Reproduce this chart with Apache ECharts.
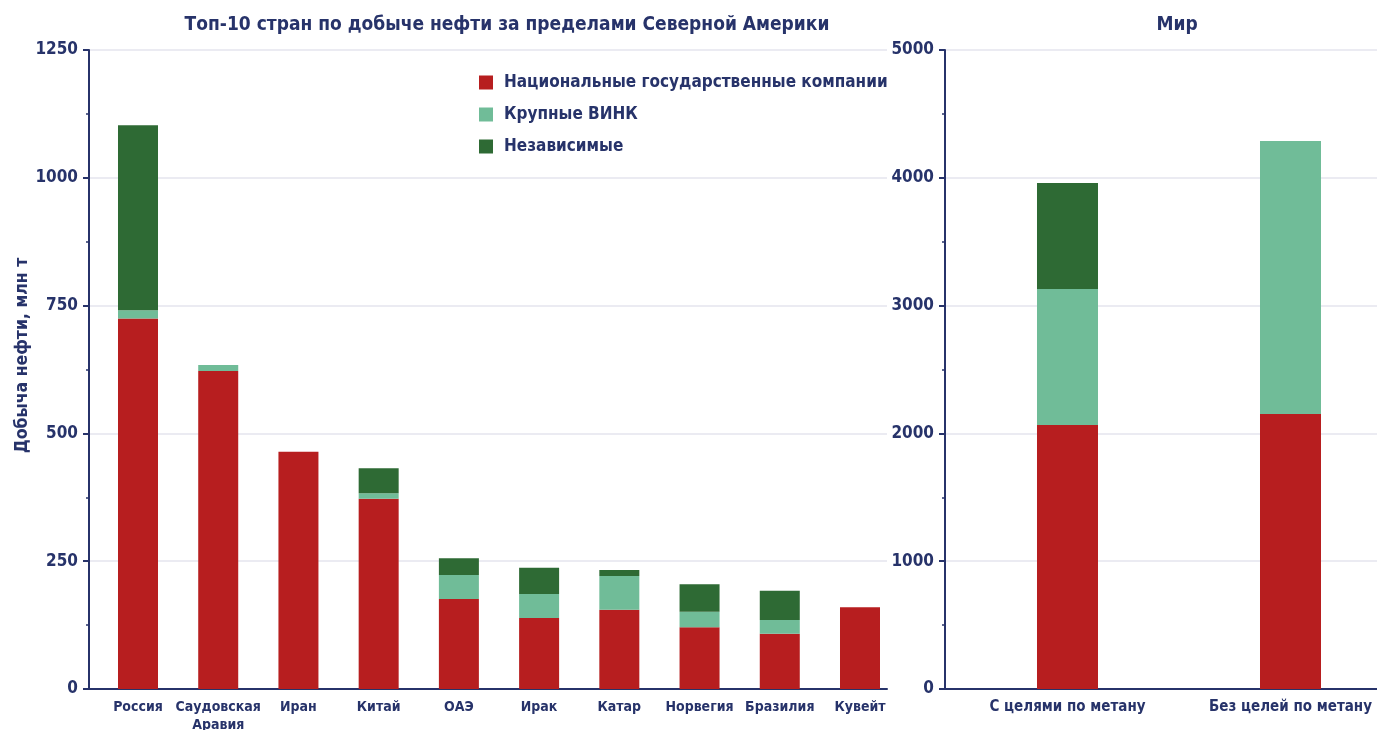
<!DOCTYPE html>
<html lang="ru">
<head>
<meta charset="utf-8" />
<title>Добыча нефти</title>
<script src="https://cdn.jsdelivr.net/npm/echarts@6/dist/echarts.min.js"></script>
<style>
  html, body { margin: 0; padding: 0; background: #fff; }
  #chart { width: 1377px; height: 730px; }
</style>
</head>
<body>
<div id="chart"></div>
<script>
// страны (левая панель)
const countries = ["Россия", "Саудовская\nАравия", "Иран", "Китай", "ОАЭ", "Ирак", "Катар", "Норвегия", "Бразилия", "Кувейт"];
const natCountry = [725, 622, 464, 372, 176, 139, 155, 121, 108, 160];
const vinkCountry = [16, 12, 0, 11, 47, 47, 66, 30, 27, 0];
const indepCountry = [362, 0, 0, 49, 33, 51, 12, 54, 57, 0];

// мир (правая панель)
const scenarios = ["С целями по метану", "Без целей по метану"];
const natWorld = [2066, 2152];
const vinkWorld = [1064, 2136];
const indepWorld = [829, 0];

const seriesNames = ["Национальные государственные компании", "Крупные ВИНК", "Независимые"];
const colors = ["#b71e1f", "#70bc98", "#2e6a34"];

const navy = "#27336a";
const font = "'Liberation Sans Narrow', 'DejaVu Sans Condensed', sans-serif";

const chart = echarts.init(document.getElementById("chart"));

// значение первым, чтобы стек шёл по оси y
function pts(arr) {
  return arr.map((v, i) => [v, i]);
}

function xAxisFor(idx, labels, min, max, size) {
  return {
    type: "value",
    gridIndex: idx,
    min: min,
    max: max,
    axisLine: { show: true, onZero: false, lineStyle: { color: navy, width: 2 } },
    axisTick: { show: false },
    splitLine: { show: false },
    axisLabel: {
      customValues: labels.map((l, i) => i),
      formatter: (v) => labels[Math.round(v)],
      color: navy,
      fontFamily: font,
      fontWeight: "bold",
      fontSize: size,
      lineHeight: 18,
      margin: 9
    }
  };
}

function yAxisFor(idx, max, interval, name) {
  return {
    type: "value",
    gridIndex: idx,
    min: 0,
    max: max,
    interval: interval,
    name: name,
    nameLocation: "middle",
    nameGap: 58,
    nameMoveOverlap: false,
    nameTextStyle: {
      color: navy, fontFamily: font, fontWeight: "bold", fontSize: 17.5,
      padding: [0, 0, 0, 28]
    },
    axisLine: { show: true, onZero: false, lineStyle: { color: navy, width: 2 } },
    axisTick: { show: true, length: 6, lineStyle: { color: navy, width: 2 } },
    minorTick: { show: true, splitNumber: 2, length: 3, lineStyle: { color: navy, width: 1.5 } },
    splitLine: { show: true, lineStyle: { color: "#e4e4ee", width: 1.5 } },
    axisLabel: {
      color: navy, fontFamily: font, fontWeight: "bold", fontSize: 17, margin: 11,
      formatter: (v) => String(v)
    }
  };
}

function barSeries(xi, data, k, width) {
  return {
    name: seriesNames[k],
    type: "bar",
    xAxisIndex: xi,
    yAxisIndex: xi,
    stack: "s" + xi,
    barWidth: width,
    encode: { x: 1, y: 0 },
    itemStyle: { color: colors[k] },
    data: pts(data)
  };
}

const option = {
  animation: false,
  textStyle: { fontFamily: font },
  title: [
    {
      text: "Топ-10 стран по добыче нефти за пределами Северной Америки",
      left: 502, top: 11, textAlign: "center",
      textStyle: { color: navy, fontFamily: font, fontWeight: "bold", fontSize: 19 }
    },
    {
      text: "Мир",
      left: 1172, top: 11, textAlign: "center",
      textStyle: { color: navy, fontFamily: font, fontWeight: "bold", fontSize: 19 }
    }
  ],
  legend: {
    data: seriesNames,
    orient: "vertical",
    left: 474,
    top: 69,
    icon: "rect",
    itemWidth: 14,
    itemHeight: 14,
    itemGap: 15,
    textStyle: { color: navy, fontFamily: font, fontWeight: "bold", fontSize: 17, padding: [0, 0, 0, 6] }
  },
  grid: [
    { left: 89, top: 50, width: 798, height: 639, outerBoundsMode: "none" },
    { left: 945, top: 50, width: 432, height: 639, outerBoundsMode: "none" }
  ],
  xAxis: [
    xAxisFor(0, countries, -0.6108, 9.3366, 14),
    xAxisFor(1, scenarios, -0.5493, 1.3879, 15)
  ],
  yAxis: [
    yAxisFor(0, 1250, 250, "Добыча нефти, млн т"),
    yAxisFor(1, 5000, 1000, "")
  ],
  series: [
    barSeries(0, natCountry, 0, 40),
    barSeries(0, vinkCountry, 1, 40),
    barSeries(0, indepCountry, 2, 40),
    barSeries(1, natWorld, 0, 61),
    barSeries(1, vinkWorld, 1, 61),
    barSeries(1, indepWorld, 2, 61)
  ]
};

chart.setOption(option);
window.onresize = function () {
  chart.resize();
};
</script>
</body>
</html>
